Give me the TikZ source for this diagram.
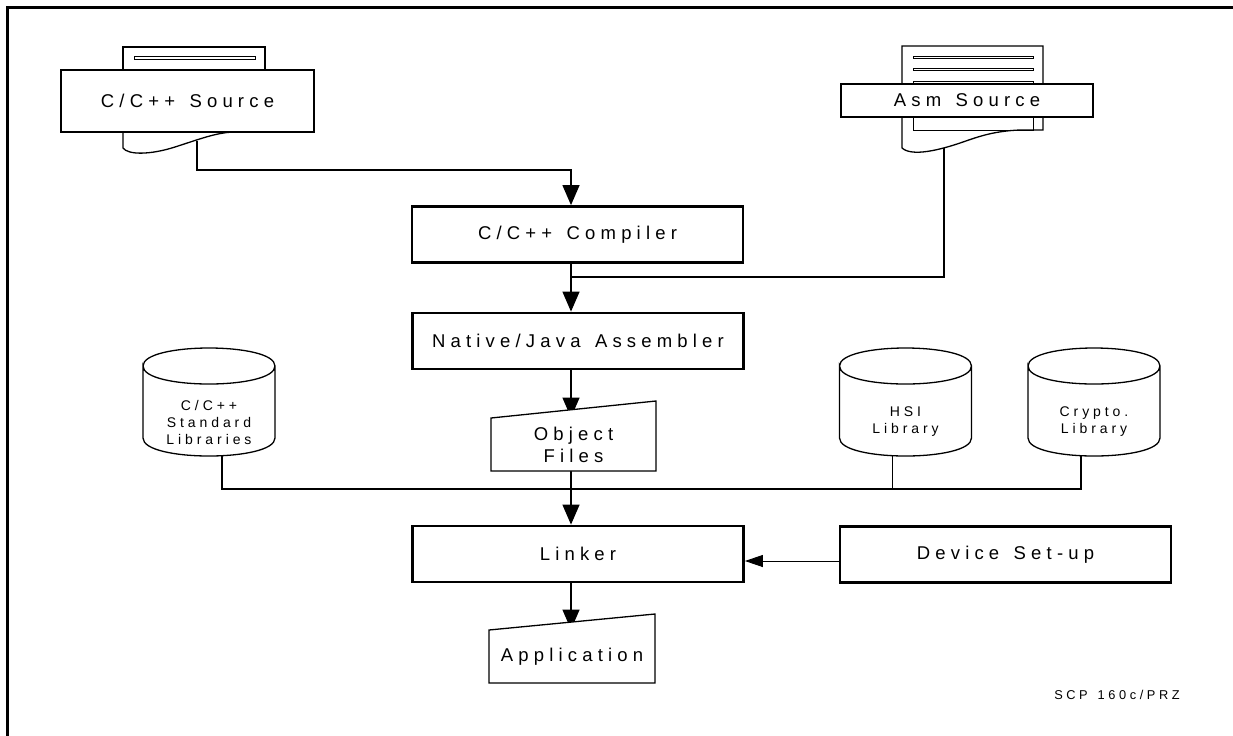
\documentclass[tikz,border=0pt]{standalone}
\usepackage{fontspec}
\setmainfont{Liberation Sans}[LetterSpace=28, WordSpace=1.4]
\usetikzlibrary{arrows.meta,backgrounds}

\begin{document}
\begin{tikzpicture}[x=0.5pt, y=-0.5pt,
  stagebox/.style={draw, line width=1.4pt, minimum width=165.5pt, minimum height=28pt, font=\fontsize{9.25}{11.5}\selectfont},
  docbox/.style={draw, line width=0.65pt, fill=white, font=\fontsize{9.25}{11.5}\selectfont},
  filebox/.style={minimum width=82.5pt, minimum height=26.5pt, align=center, font=\fontsize{9.25}{11}\selectfont},
  libtext/.style={align=center, font=\fontsize{7}{8.5}\selectfont},
  wire/.style={line width=0.65pt},
  sheetline/.style={line width=0.4pt},
  arr/.style={line width=0.65pt, -{Triangle[length=10pt,width=8.5pt]}},
  drum/.pic={\draw[line width=0.65pt] (-66,-56) .. controls (-66,-80) and (66,-80) .. (66,-56)
     .. controls (66,-32) and (-66,-32) .. (-66,-56) -- (-66,16)
     .. controls (-66,40) and (66,40) .. (66,16) -- (66,-56);}]
\useasboundingbox (0,0) rectangle (1233,735);
\draw[line width=1.5pt] (7.5,7.5) rectangle (1260,760);

% C/C++ source sheet
\draw[wire] (123,132) -- (123,47) -- (265,47) -- (265,132);
\draw[sheetline] (134,56.5) rectangle (255,59);
\draw[sheetline] (134,69) -- (255,69);
\draw[wire] (123,132) -- (123,148) .. controls (128,155) and (150,155) .. (175,147) .. controls (200,139) and (215,133) .. (233,132);
\node[docbox, minimum width=126.5pt, minimum height=31pt] (csrc) at (187.5,101) {C/C++ Source};
\coordinate (csrcout) at (197,141);

% Asm source sheet
\draw[wire] (902,148) -- (902,46) -- (1043,46) -- (1043,130) -- (1020,130) .. controls (995,131) and (980,136) .. (963,142) .. controls (940,150) and (912,157) .. (902,148);
\draw[sheetline] (913,56) rectangle (1033,58);
\draw[sheetline] (913,68) rectangle (1033,70);
\draw[sheetline] (913,81) rectangle (1033,130);
\node[docbox, minimum width=126pt, minimum height=16.5pt] (asrc) at (967,100.5) {Asm Source};
\coordinate (asrcout) at (944,148);

\node[stagebox] (cc) at (577.5,234.5) {C/C++ Compiler};
\node[stagebox] (asm) at (578,341) {Native/Java Assembler};

\draw[wire, fill=white] (491,471) -- (491,418) -- (656,401) -- (656,471) -- cycle;
\node[filebox] (obj) at (573.5,444.5) {Object\\Files};

% libraries
\pic at (209,422) {drum};
\node[libtext] (stdlib) at (209,422) {C/C++\\Standard\\Libraries};
\pic at (905.5,422) {drum};
\node[libtext] (hsi) at (905.5,422) {HSI\\Library};
\pic at (1094,422) {drum};
\node[libtext] (crypto) at (1094,422) {Crypto.\\Library};
\coordinate (stdlibout) at (222,456);
\coordinate (hsiout) at (892.5,456);
\coordinate (cryptoout) at (1081,456);

\node[stagebox] (link) at (578,554) {Linker};
\node[stagebox] (dev) at (1005.5,554.5) {Device Set-up};

\draw[wire, fill=white] (489,683) -- (489,630) -- (655,614) -- (655,683) -- cycle;
\node[filebox] (app) at (572,656.5) {Application};

\node[font=\fontsize{6.4}{8}\selectfont] (tag) at (1117,695) {SCP 160c/PRZ};

\coordinate (cbend) at (571,170);
\coordinate (join) at (571,277);
\coordinate (bus) at (571,489);
\coordinate (devline) at (0,561);

\begin{pgfonlayer}{background}
\draw[arr] (csrcout) |- (cbend) -- (cc.north -| cbend);
\draw[wire] (asrcout) |- (join);
\draw[arr] (cc.south -| join) -- (asm.north -| join);
\draw[arr] (asm.south -| join) -- (obj.north -| join);
\draw[wire] (stdlibout) |- (bus);
\draw[wire] (hsiout) |- (bus);
\draw[wire] (cryptoout) |- (bus);
\draw[arr] (obj.south -| join) -- (link.north -| join);
\draw[arr] (link.south -| join) -- (app.north -| join);
\draw[line width=0.5pt, -{Triangle[length=9pt,width=6pt]}] (dev.west |- devline) -- (link.east |- devline);
\end{pgfonlayer}
\end{tikzpicture}
\end{document}
